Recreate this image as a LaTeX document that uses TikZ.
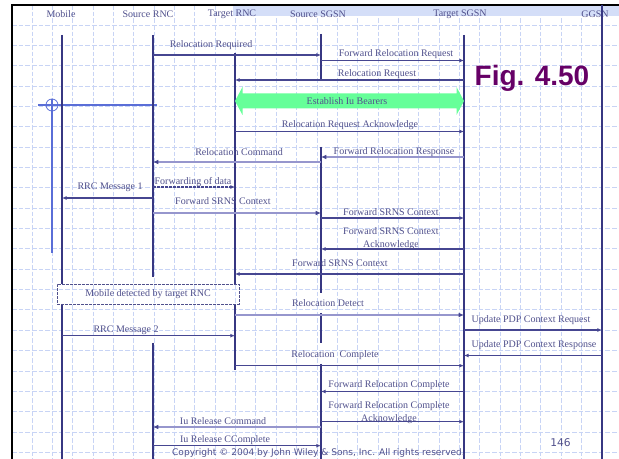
\documentclass[tikz,border=0pt]{standalone}
\usepackage{fontspec}
\setmainfont{Liberation Serif}
\newfontfamily\dejavu{DejaVu Sans}
\newfontfamily\libsans{Liberation Sans}
\usetikzlibrary{arrows.meta}
\definecolor{navy}{RGB}{55,55,130}
\definecolor{txt}{RGB}{80,80,140}
\definecolor{msgc}{RGB}{70,70,145}
\definecolor{thickc}{RGB}{150,150,205}
\definecolor{gridc}{RGB}{200,212,245}
\definecolor{bandc}{RGB}{212,222,248}
\definecolor{greenc}{RGB}{102,255,153}
\definecolor{figc}{RGB}{102,0,102}
\definecolor{crossc}{RGB}{90,110,215}
\begin{document}
\begin{tikzpicture}[x=0.75pt,y=-0.75pt,
  lbl/.style={font=\fontsize{7.5}{9.5}\selectfont, text=txt, inner sep=0pt, align=center},
  head/.style={font=\fontsize{7.5}{9}\selectfont, text=txt, inner sep=0pt},
  life/.style={draw=navy, line width=1pt},
  gridl/.style={draw=gridc, line width=0.6pt, dash pattern=on 3.5pt off 1.5pt},
  msg/.style={draw=msgc, line width=0.8pt, -{Latex[length=3.5pt,width=3pt]}},
  msgthick/.style={draw=thickc, line width=1.5pt, -{Latex[length=4pt,width=3.5pt,color=msgc]}},
  msgdash/.style={msg, dash pattern=on 2pt off 1pt}]
\useasboundingbox (0,0) rectangle (619,459);
\fill[white] (0,0) rectangle (619,459);
% grid
\foreach \i in {0,...,28} \draw[gridl] ({32+20.35*\i},5) -- ({32+20.35*\i},459);
\foreach \j in {0,...,21} \draw[gridl] (12,{25+20.35*\j}) -- (619,{25+20.35*\j});
% top band and frame
\fill[bandc] (233,6) rectangle (619,16);
\draw[black, line width=1.9pt] (12,459) -- (12,5) -- (619,5);
% crosshair decoration
\draw[crossc, line width=0.6pt] (52,105) circle[radius=6];
\draw[crossc, line width=0.8pt] (38,105) -- (157,105);
\draw[crossc, line width=0.8pt] (52,99) -- (52,253);
% headers
\node[head] (hmob) at (61,14) {Mobile};
\node[head] (hsrnc) at (148,14) {Source RNC};
\node[head] (htrnc) at (232,14) {Target RNC};
\node[head] (hssgsn) at (318,14) {Source SGSN};
\node[head] (htsgsn) at (460,14) {Target SGSN};
\node[head] (hggsn) at (595,14) {GGSN};
% lifeline anchors
\coordinate (mob) at (62,0);
\coordinate (srnc) at (153,0);
\coordinate (trnc) at (235,0);
\coordinate (ssgsn) at (321,0);
\coordinate (tsgsn) at (464,0);
\coordinate (ggsn) at (602,0);
% lifelines
\draw[life] (mob |- 0,35) -- (mob |- 0,284);
\draw[life] (mob |- 0,304) -- (mob |- 0,459);
\draw[life] (srnc |- 0,35) -- (srnc |- 0,277);
\draw[life] (srnc |- 0,343) -- (srnc |- 0,459);
\draw[life] (trnc |- 0,53) -- (trnc |- 0,284);
\draw[life] (trnc |- 0,304) -- (trnc |- 0,370);
\draw[life] (ssgsn |- 0,34) -- (ssgsn |- 0,79);
\draw[life] (ssgsn |- 0,147) -- (ssgsn |- 0,293);
\draw[life] (ssgsn |- 0,313) -- (ssgsn |- 0,343);
\draw[life] (ssgsn |- 0,364) -- (ssgsn |- 0,459);
\draw[life] (tsgsn |- 0,35) -- (tsgsn |- 0,459);
\draw[life] (ggsn |- 0,5) -- (ggsn |- 0,459);
% Establish Iu Bearers
\fill[greenc] (235,101) -- (242.5,87) -- (242.5,93.5) -- (456.5,93.5) -- (456.5,87) -- (464,101)
  -- (456.5,115) -- (456.5,108.5) -- (242.5,108.5) -- (242.5,115) -- cycle;
\node[lbl] (eib) at (347,101) {Establish Iu Bearers};
% messages
\draw[msg] (srnc |- 0,55) -- (ssgsn |- 0,55);
\node[lbl] (m1) at (211,45) {Relocation Required};
\draw[msg] (ssgsn |- 0,60.5) -- (tsgsn |- 0,60.5);
\node[lbl] (m2) at (396,54) {Forward Relocation Request};
\draw[msg] (tsgsn |- 0,80) -- (trnc |- 0,80);
\node[lbl] (m3) at (377,74) {Relocation Request};
\draw[msg] (trnc |- 0,131.5) -- (tsgsn |- 0,131.5);
\node[lbl] (m5) at (350,125) {Relocation Request Acknowledge};
\draw[msgthick] (tsgsn |- 0,157) -- (ssgsn |- 0,157);
\node[lbl] (m6) at (394,152) {Forward Relocation Response};
\draw[msgthick] (ssgsn |- 0,162) -- (srnc |- 0,162);
\node[lbl] (m7) at (239,152) {Relocation Command};
\draw[msgdash] (srnc |- 0,187) -- (trnc |- 0,187);
\node[lbl] (m8) at (193,182) {Forwarding of data};
\draw[msg] (srnc |- 0,198) -- (mob |- 0,198);
\node[lbl] (m9) at (110,187) {RRC Message 1};
\draw[msgthick] (srnc |- 0,213) -- (ssgsn |- 0,213);
\node[lbl] (m10) at (223,201) {Forward SRNS Context};
\draw[msg] (ssgsn |- 0,218) -- (tsgsn |- 0,218);
\node[lbl] (m11) at (391,212) {Forward SRNS Context};
\draw[msg] (tsgsn |- 0,249) -- (ssgsn |- 0,249);
\node[lbl] (m12) at (391,238.5) {Forward SRNS Context\\Acknowledge};
\draw[msg] (tsgsn |- 0,274) -- (trnc |- 0,274);
\node[lbl] (m13) at (340,263) {Forward SRNS Context};
\node[lbl, draw=txt, line width=0.6pt, dash pattern=on 2pt off 1pt, minimum width=136.5pt, minimum height=15pt] (mdet) at (148,294) {Mobile detected by target RNC};
\draw[msgthick] (trnc |- 0,315) -- (tsgsn |- 0,315);
\node[lbl] (m15) at (328,303) {Relocation Detect};
\draw[msg] (mob |- 0,335.7) -- (trnc |- 0,335.7);
\node[lbl] (m16) at (126,330) {RRC Message 2};
\draw[msg] (tsgsn |- 0,330) -- (ggsn |- 0,330);
\node[lbl] (m17) at (531,320) {Update PDP Context Request};
\draw[msg] (ggsn |- 0,355.5) -- (tsgsn |- 0,355.5);
\node[lbl] (m18) at (534,345) {Update PDP Context Response};
\draw[msg] (trnc |- 0,365.7) -- (tsgsn |- 0,365.7);
\node[lbl] (m19) at (335,355) {Relocation\ \ Complete};
\draw[msg] (tsgsn |- 0,391.5) -- (ssgsn |- 0,391.5);
\node[lbl] (m20) at (389,385.5) {Forward Relocation Complete};
\draw[msg] (ssgsn |- 0,421.7) -- (tsgsn |- 0,421.7);
\node[lbl] (m21) at (389,412.5) {Forward Relocation Complete\\Acknowledge};
\draw[msgthick] (ssgsn |- 0,427) -- (srnc |- 0,427);
\node[lbl] (m22) at (223,420.7) {Iu Release Command};
\draw[msg] (srnc |- 0,445.7) -- (ssgsn |- 0,445.7);
\node[lbl] (m23) at (225,439.7) {Iu Release CComplete};
% footer and title
\node[inner sep=0pt, text=txt, font=\dejavu\fontsize{6.8}{8}\selectfont] (copy) at (318.5,453) {Copyright \textcopyright{} 2004 by John Wiley \& Sons, Inc. All rights reserved.};
\node[inner sep=0pt, text=txt, font=\dejavu\fontsize{8}{9}\selectfont] (pg) at (560.5,443) {146};
\node[inner sep=0pt, text=figc, font=\libsans\bfseries\fontsize{21}{24}\selectfont] (fig) at (532,78) {Fig. 4.50};
\end{tikzpicture}
\end{document}
